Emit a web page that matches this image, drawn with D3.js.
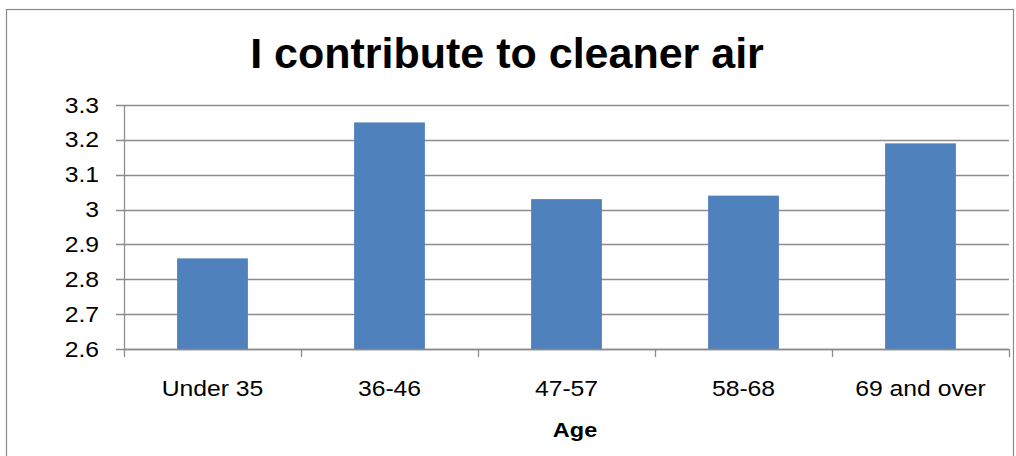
<!DOCTYPE html>
<html>
<head>
<meta charset="utf-8">
<script src="https://cdn.jsdelivr.net/npm/d3@7"></script>
<style>
  html, body { margin: 0; padding: 0; background: #fff; }
  svg { display: block; font-family: "Liberation Sans", Arial, sans-serif; }
</style>
</head>
<body>
<svg id="chart" width="1016" height="456"></svg>
<script>
// Mean agreement score by age group
const categories = ["Under 35", "36-46", "47-57", "58-68", "69 and over"];
const values = [2.86, 3.25, 3.03, 3.04, 3.19];
const yTicks = [2.6, 2.7, 2.8, 2.9, 3.0, 3.1, 3.2, 3.3];
const yTickLabels = ["2.6", "2.7", "2.8", "2.9", "3", "3.1", "3.2", "3.3"];
const chartTitle = "I contribute to cleaner air";
const xTitle = "Age";

const svg = d3.select("#chart");
const stretch = 1.15; // labels are drawn slightly wide

// chart frame
svg.append("rect")
  .attr("x", 6.5).attr("y", 9.5)
  .attr("width", 1007).attr("height", 470)
  .attr("fill", "#fff")
  .attr("stroke", "#8a8a8a")
  .attr("stroke-width", 1.2);

const plot = { left: 124, right: 1009, top: 105, bottom: 349 };

const x = d3.scaleBand()
  .domain(categories)
  .range([plot.left, plot.right])
  .paddingInner(0).paddingOuter(0);

const y = d3.scaleLinear()
  .domain([2.6, 3.3])
  .range([plot.bottom, plot.top]);

// horizontal gridlines with short ticks on the left
svg.append("g").selectAll("line")
  .data(yTicks)
  .join("line")
  .attr("x1", plot.left - 8)
  .attr("x2", plot.right)
  .attr("y1", d => Math.round(y(d)) + 0.5)
  .attr("y2", d => Math.round(y(d)) + 0.5)
  .attr("stroke", "#8c8c8c")
  .attr("stroke-width", 1.3);

// y axis line
svg.append("line")
  .attr("x1", plot.left + 0.5).attr("x2", plot.left + 0.5)
  .attr("y1", plot.top).attr("y2", plot.bottom + 8)
  .attr("stroke", "#8c8c8c").attr("stroke-width", 1.3);

// bars
const barW = x.bandwidth() * 0.4;
svg.append("g").selectAll("rect")
  .data(values)
  .join("rect")
  .attr("x", (d, i) => x(categories[i]) + (x.bandwidth() - barW) / 2)
  .attr("y", d => y(d))
  .attr("width", barW)
  .attr("height", d => y(2.6) - y(d))
  .attr("fill", "#4f81bd");

// x axis line and category boundary ticks
svg.append("line")
  .attr("x1", plot.left).attr("x2", plot.right)
  .attr("y1", plot.bottom + 0.5).attr("y2", plot.bottom + 0.5)
  .attr("stroke", "#8c8c8c").attr("stroke-width", 1.3);

const bounds = categories.map(c => x(c)).concat([plot.right]);
svg.append("g").selectAll("line")
  .data(bounds.slice(1))
  .join("line")
  .attr("x1", d => Math.round(d) + 0.5)
  .attr("x2", d => Math.round(d) + 0.5)
  .attr("y1", plot.bottom)
  .attr("y2", plot.bottom + 8)
  .attr("stroke", "#8c8c8c").attr("stroke-width", 1.3);

// y tick labels
svg.append("g").selectAll("text")
  .data(yTicks)
  .join("text")
  .attr("transform", d => `translate(99,${y(d)}) scale(${stretch},1)`)
  .attr("dy", "0.35em")
  .attr("text-anchor", "end")
  .attr("font-size", 21.5)
  .attr("fill", "#000")
  .text((d, i) => yTickLabels[i]);

// x category labels
svg.append("g").selectAll("text")
  .data(categories)
  .join("text")
  .attr("transform", d => `translate(${x(d) + x.bandwidth() / 2},396) scale(${stretch},1)`)
  .attr("text-anchor", "middle")
  .attr("font-size", 21.5)
  .attr("fill", "#000")
  .text(d => d);

// axis title
svg.append("text")
  .attr("transform", `translate(575,437) scale(1.12,1)`)
  .attr("text-anchor", "middle")
  .attr("font-size", 21)
  .attr("font-weight", "bold")
  .text(xTitle);

// chart title
svg.append("text")
  .attr("x", 507)
  .attr("y", 68)
  .attr("text-anchor", "middle")
  .attr("font-size", 43)
  .attr("font-weight", "bold")
  .text(chartTitle);
</script>
</body>
</html>
